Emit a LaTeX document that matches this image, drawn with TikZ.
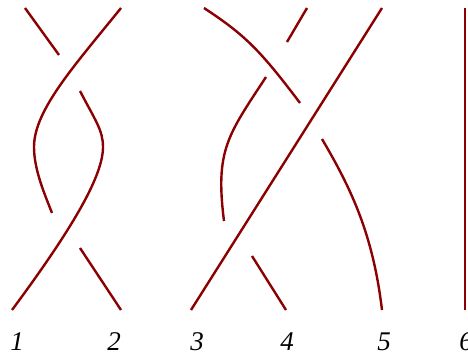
\documentclass[tikz,border=0pt]{standalone}
\usepackage{fontspec}
\setmainfont{Liberation Serif}
\usepackage{xcolor}
\usepackage{tikz}
\usetikzlibrary{positioning,calc}
\definecolor{BraidRed}{HTML}{8B0000}

\begin{document}
\begin{tikzpicture}[
			x=1pt,y=-1pt,
			strand/.style={BraidRed,line width=2.4pt},
			num/.style={anchor=base,font=\fontsize{27}{30}\selectfont\itshape,inner sep=0pt}
		]
		\useasboundingbox (0,0) rectangle (468,355);
		% ends of the strands
		\coordinate (t1) at (25,8);   \coordinate (b1) at (12,310);
		\coordinate (t2) at (121,8);  \coordinate (b2) at (121,310);
		\coordinate (t3) at (204,8);  \coordinate (b3) at (191,310);
		\coordinate (t4) at (307,8);  \coordinate (b4) at (286,310);
		\coordinate (t5) at (382,8);  \coordinate (b5) at (382,310);
		\coordinate (t6) at (465,8);  \coordinate (b6) at (465,310);
		% labels
		\node[num] (n1) at (17,350) {1};
		\node[num] (n2) at (114,350) {2};
		\node[num] (n3) at (197,350) {3};
		\node[num] (n4) at (287,350) {4};
		\node[num] (n5) at (384,350) {5};
		\node[num] (n6) at (466,350) {6};
		% first pair
		\draw[strand] (t2) .. controls (75,65) and (34,110) .. (34,147)
			.. controls (34,170) and (45,195) .. (52,213);
		\draw[strand] (80,248) -- (b2);
		\draw[strand] (t1) -- (59,55);
		\draw[strand] (80,91) .. controls (95,120) and (103,130) .. (103,147)
			.. controls (103,175) and (75,225) .. (b1);
		% three strands
		\draw[strand] (t5) -- (b3);
		\draw[strand] (t3) .. controls (245,35) and (260,50) .. (300,103);
		\draw[strand] (322,139) .. controls (352,190) and (373,235) .. (b5);
		\draw[strand] (t4) -- (287,42);
		\draw[strand] (266,77) .. controls (228,135) and (215,150) .. (224,221);
		\draw[strand] (252,256) -- (b4);
		% last one
		\draw[strand] (t6) -- (b6);
	\end{tikzpicture}
\end{document}
